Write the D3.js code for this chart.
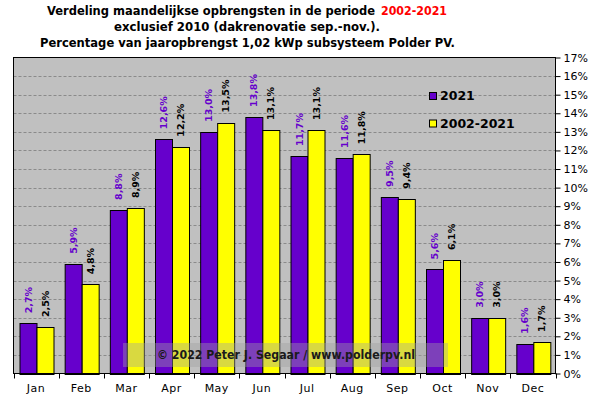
<!DOCTYPE html>
<html>
<head>
<meta charset="utf-8">
<script src="https://cdn.jsdelivr.net/npm/d3@7"></script>
<style>
  body { margin: 0; background: #fff; }
  svg { display: block; font-family: "DejaVu Sans", Verdana, sans-serif; }
</style>
</head>
<body>
<div id="chart"></div>
<script>
var months = ["Jan", "Feb", "Mar", "Apr", "May", "Jun", "Jul", "Aug", "Sep", "Oct", "Nov", "Dec"];
var series = ["2021", "2002-2021"];
var values2021 = [2.7, 5.9, 8.8, 12.6, 13.0, 13.8, 11.7, 11.6, 9.5, 5.6, 3.0, 1.6];
var valuesAvg = [2.5, 4.8, 8.9, 12.2, 13.5, 13.1, 13.1, 11.8, 9.4, 6.1, 3.0, 1.7];
var yTicks = d3.range(0, 18);

var svgWidth = 601;
var svgHeight = 397;
var plot = { left: 13.5, right: 555.5, top: 57.5, bottom: 373.5 };
var colors = { "2021": "#6600cc", "2002-2021": "#ffff00" };
var labelColors = { "2021": "#6600cc", "2002-2021": "#000000" };

var svg = d3.select("#chart")
  .append("svg")
  .attr("width", svgWidth)
  .attr("height", svgHeight);

// title (each piece its own text so the widths can be matched)
var titleParts = [
  { x: 47, y: 15, len: 328, size: 11.5, text: "Verdeling maandelijkse opbrengsten in de periode", fill: "#000" },
  { x: 381, y: 15, len: 66, size: 11.5, text: "2002-2021", fill: "#ff0000" },
  { x: 114, y: 31, len: 266, size: 12.5, text: "exclusief 2010 (dakrenovatie sep.-nov.).", fill: "#000" },
  { x: 40, y: 47, len: 415, size: 12.5, text: "Percentage van jaaropbrengst 1,02 kWp subsysteem Polder PV.", fill: "#000" }
];
svg.append("g")
  .selectAll("text")
  .data(titleParts)
  .enter()
  .append("text")
  .attr("x", function(d) { return d.x; })
  .attr("y", function(d) { return d.y; })
  .attr("font-size", function(d) { return d.size + "px"; })
  .attr("font-weight", "bold")
  .attr("fill", function(d) { return d.fill; })
  .attr("textLength", function(d) { return d.len; })
  .attr("lengthAdjust", "spacingAndGlyphs")
  .text(function(d) { return d.text; });

// scales
var x0 = d3.scaleBand()
  .domain(months)
  .range([plot.left, plot.right]);

var x1 = d3.scaleBand()
  .domain(series)
  .range([0, x0.bandwidth()])
  .paddingOuter(0.33);

var y = d3.scaleLinear()
  .domain([0, 17])
  .range([plot.bottom, plot.top]);

// plot background
svg.append("rect")
  .attr("x", plot.left)
  .attr("y", plot.top)
  .attr("width", plot.right - plot.left)
  .attr("height", plot.bottom - plot.top)
  .attr("fill", "#c0c0c0");

// gridlines
svg.append("g")
  .selectAll("line")
  .data(yTicks.filter(function(d) { return d > 0 && d < 17; }))
  .enter()
  .append("line")
  .attr("x1", plot.left)
  .attr("x2", plot.right)
  .attr("y1", function(d) { return Math.round(y(d)) + 0.5; })
  .attr("y2", function(d) { return Math.round(y(d)) + 0.5; })
  .attr("stroke", "#8a8a8a")
  .attr("stroke-dasharray", "3,2");

// bars
var data = months.map(function(m, i) {
  return { month: m, vals: [{ s: "2021", v: values2021[i] }, { s: "2002-2021", v: valuesAvg[i] }] };
});

var groups = svg.append("g")
  .selectAll("g")
  .data(data)
  .enter()
  .append("g")
  .attr("transform", function(d) { return "translate(" + x0(d.month) + ",0)"; });

groups.selectAll("rect")
  .data(function(d) { return d.vals; })
  .enter()
  .append("rect")
  .attr("x", function(d) { return Math.round(x1(d.s)) + 0.5; })
  .attr("y", function(d) { return Math.round(y(d.v)) + 0.5; })
  .attr("width", Math.round(x1.bandwidth()))
  .attr("height", function(d) { return Math.round(y(0)) - Math.round(y(d.v)); })
  .attr("fill", function(d) { return colors[d.s]; })
  .attr("stroke", "#000")
  .attr("stroke-width", 1);

// value labels, rotated
groups.selectAll("text")
  .data(function(d) { return d.vals; })
  .enter()
  .append("text")
  .attr("transform", function(d) {
    var cx = x1(d.s) + x1.bandwidth() / 2 + 4;
    return "translate(" + cx + "," + (y(d.v) - 10) + ") rotate(-90)";
  })
  .attr("font-size", "9.5px")
  .attr("font-weight", "bold")
  .attr("fill", function(d) { return labelColors[d.s]; })
  .text(function(d) { return d.v.toFixed(1).replace(".", ",") + "%"; });

// frame
svg.append("rect")
  .attr("x", plot.left)
  .attr("y", plot.top)
  .attr("width", plot.right - plot.left)
  .attr("height", plot.bottom - plot.top)
  .attr("fill", "none")
  .attr("stroke", "#000");

// right axis
var rightAxis = d3.axisRight(y)
  .tickValues(yTicks)
  .tickSize(5)
  .tickSizeOuter(0)
  .tickFormat(function(d) { return d + "%"; });

var ya = svg.append("g")
  .attr("transform", "translate(" + plot.right + ",0)")
  .call(rightAxis);
ya.select(".domain").remove();
ya.selectAll("text")
  .attr("font-family", "DejaVu Sans, sans-serif")
  .attr("font-size", "11px")
  .attr("fill", "#000")
  .attr("x", 8);

// bottom axis: ticks at category boundaries
svg.append("g")
  .selectAll("line")
  .data(months.concat(["end"]))
  .enter()
  .append("line")
  .attr("x1", function(d, i) { return Math.round(plot.left + i * x0.step()) + 0.5; })
  .attr("x2", function(d, i) { return Math.round(plot.left + i * x0.step()) + 0.5; })
  .attr("y1", plot.bottom)
  .attr("y2", plot.bottom + 5)
  .attr("stroke", "#000");

svg.append("g")
  .selectAll("text")
  .data(months)
  .enter()
  .append("text")
  .attr("x", function(d) { return x0(d) + x0.bandwidth() / 2; })
  .attr("y", 392)
  .attr("text-anchor", "middle")
  .attr("font-size", "11px")
  .attr("letter-spacing", "0.5px")
  .text(function(d) { return d; });

// legend
var legend = svg.append("g");
series.forEach(function(s, i) {
  var ly = 92 + i * 27.5;
  legend.append("rect")
    .attr("x", 429.5)
    .attr("y", ly + 0.5)
    .attr("width", 7)
    .attr("height", 7)
    .attr("fill", colors[s])
    .attr("stroke", "#000");
  legend.append("text")
    .attr("x", 440)
    .attr("y", ly + 8)
    .attr("font-size", "12.5px")
    .attr("font-weight", "bold")
    .attr("fill", "#000")
    .text(s);
});

// watermark
svg.append("rect")
  .attr("x", 123)
  .attr("y", 343)
  .attr("width", 325)
  .attr("height", 24)
  .attr("fill", "#a0a0a0")
  .attr("opacity", 0.4);

svg.append("text")
  .attr("x", 286)
  .attr("y", 359)
  .attr("text-anchor", "middle")
  .attr("font-size", "12px")
  .attr("font-weight", "bold")
  .attr("fill", "#1a1a1a")
  .attr("textLength", 258)
  .attr("lengthAdjust", "spacingAndGlyphs")
  .text("© 2022 Peter J. Segaar / www.polderpv.nl");
</script>
</body>
</html>
